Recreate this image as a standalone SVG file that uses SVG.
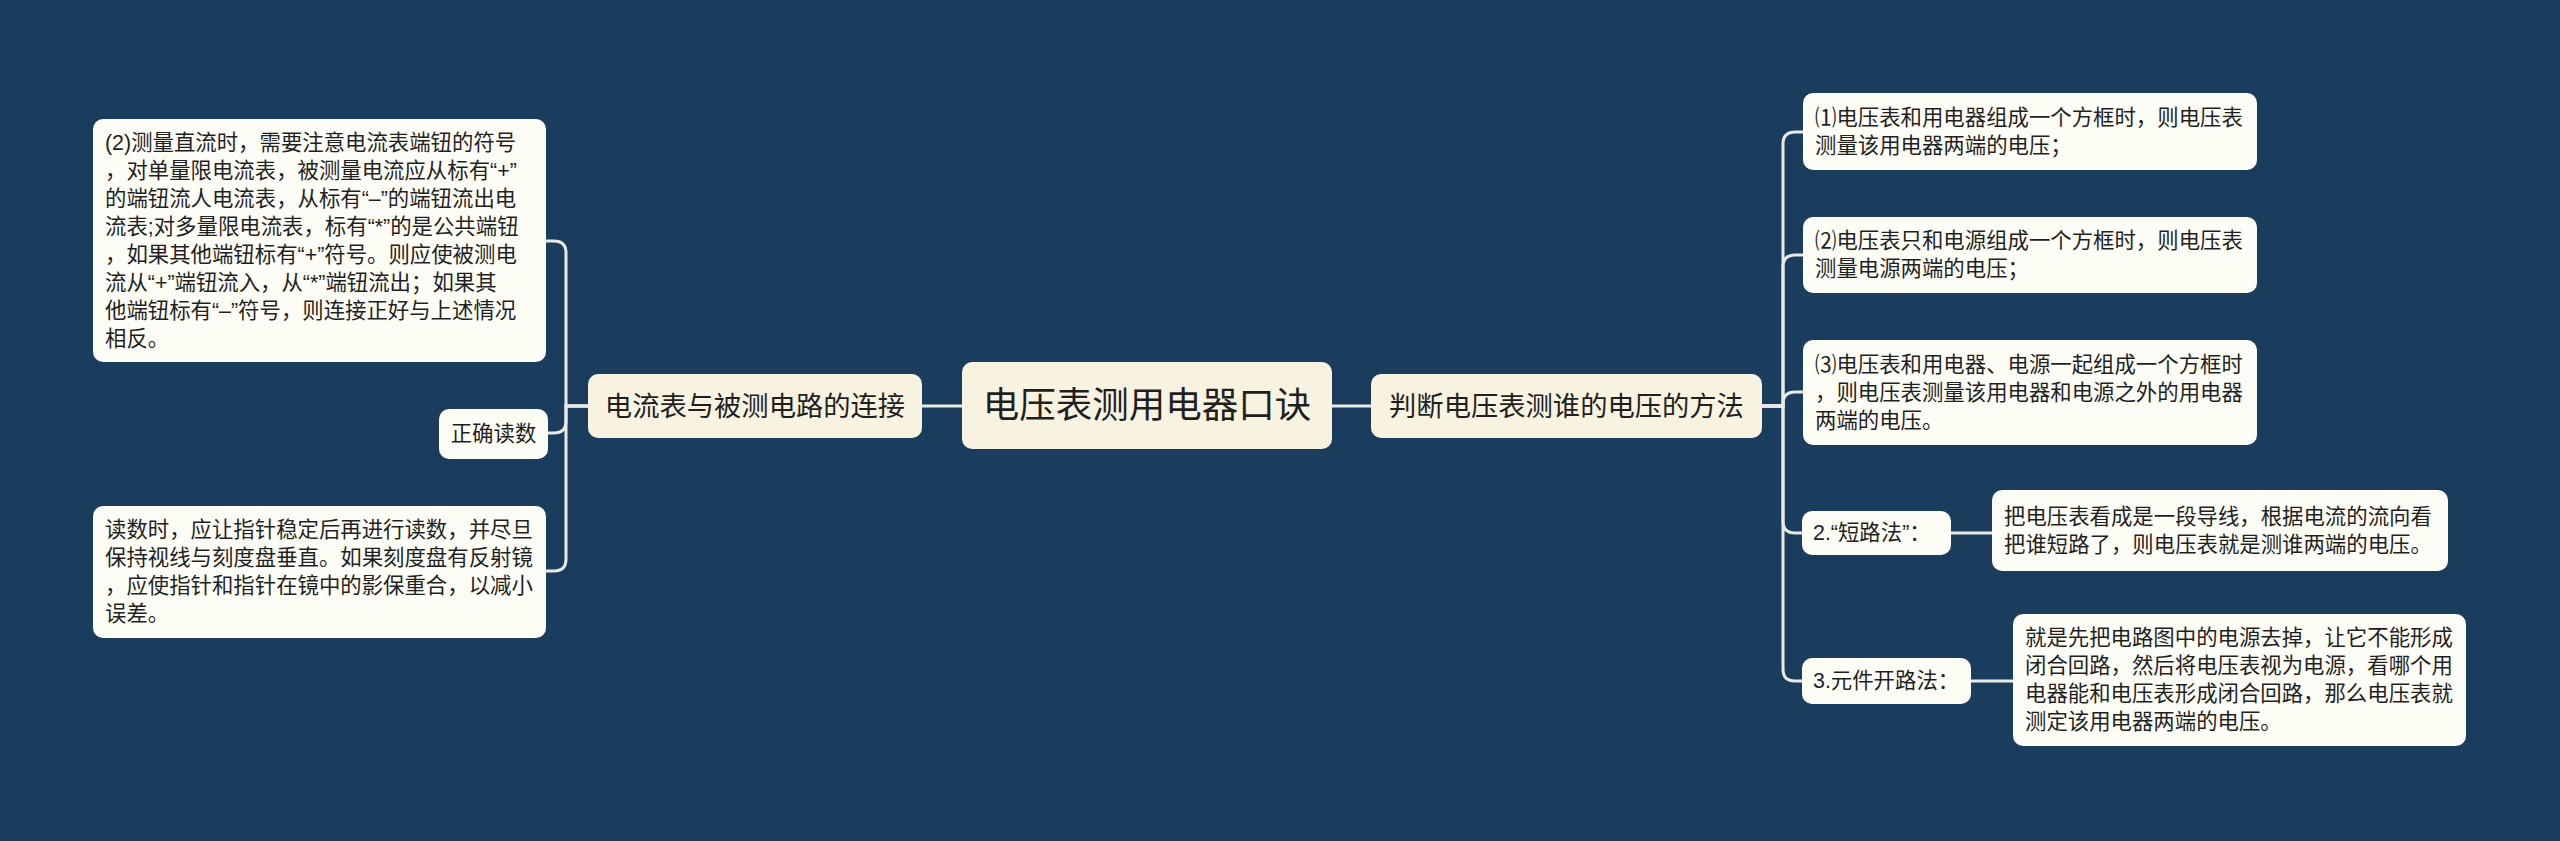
<svg xmlns="http://www.w3.org/2000/svg" width="2560" height="841" viewBox="0 0 2560 841">
<style>
.bg{fill:#1a3d5d}
.main{fill:#f8f3e1}
.leaf{fill:#fdfdf6}
.t{font-family:"Liberation Sans","Noto Sans CJK SC",sans-serif;fill:#1f1f1f;dominant-baseline:central}
.s{font-size:21.4px}
.m{font-size:27.3px;text-anchor:middle}
.c{font-size:36.5px;text-anchor:middle}
.sc{font-size:21.4px;text-anchor:middle}
.ln{fill:none;stroke:#e9e9e6;stroke-width:3}
</style>
<rect class="bg" x="0" y="0" width="2560" height="841"/>
<g id="connectors">
<path class="ln" d="M922 406 H962"/>
<path class="ln" d="M1332 406 H1371"/>
<path class="ln" d="M588 406 H566 V253 Q566 241 554 241 H545"/>
<path class="ln" d="M588 406 H566 V421 Q566 433 554 433 H548"/>
<path class="ln" d="M588 406 H566 V559 Q566 571 554 571 H545"/>
<path class="ln" d="M1762 406 H1783 V144 Q1783 132 1795 132 H1803"/>
<path class="ln" d="M1762 406 H1783 V267 Q1783 255 1795 255 H1803"/>
<path class="ln" d="M1762 406 H1783 V404 Q1783 392 1795 392 H1803"/>
<path class="ln" d="M1762 406 H1783 V521 Q1783 533 1795 533 H1802"/>
<path class="ln" d="M1762 406 H1783 V669 Q1783 681 1795 681 H1802"/>
<path class="ln" d="M1951 533 H1992"/>
<path class="ln" d="M1971 681 H2013"/>
</g>
<g id="center">
<rect class="main" x="962" y="362" width="370" height="87" rx="10"/>
<text class="t c" x="1147" y="405.5">电压表测用电器口诀</text>
</g>
<g id="left1">
<rect class="main" x="588" y="374" width="334" height="64" rx="10"/>
<text class="t m" x="755" y="406">电流表与被测电路的连接</text>
</g>
<g id="right1">
<rect class="main" x="1371" y="374" width="391" height="64" rx="10"/>
<text class="t m" x="1566.5" y="406">判断电压表测谁的电压的方法</text>
</g>
<g id="leafA">
<rect class="leaf" x="93" y="119" width="453" height="243" rx="10"/>
<text class="t s" x="105" y="142.5">(2)测量直流时，需要注意电流表端钮的符号</text>
<text class="t s" x="105" y="170.5">，对单量限电流表，被测量电流应从标有“+”</text>
<text class="t s" x="105" y="198.5">的端钮流人电流表，从标有“–”的端钮流出电</text>
<text class="t s" x="105" y="226.5">流表;对多量限电流表，标有“*”的是公共端钮</text>
<text class="t s" x="105" y="254.5">，如果其他端钮标有“+”符号。则应使被测电</text>
<text class="t s" x="105" y="282.5">流从“+”端钮流入，从“*”端钮流出；如果其</text>
<text class="t s" x="105" y="310.5">他端钮标有“–”符号，则连接正好与上述情况</text>
<text class="t s" x="105" y="338.5">相反。</text>
</g>
<g id="leafB">
<rect class="leaf" x="439" y="409" width="109" height="50" rx="10"/>
<text class="t sc" x="493.5" y="434">正确读数</text>
</g>
<g id="leafC">
<rect class="leaf" x="93" y="506" width="453" height="132" rx="10"/>
<text class="t s" x="105" y="529.5">读数时，应让指针稳定后再进行读数，并尽旦</text>
<text class="t s" x="105" y="557.5">保持视线与刻度盘垂直。如果刻度盘有反射镜</text>
<text class="t s" x="105" y="585.5">，应使指针和指针在镜中的影保重合，以减小</text>
<text class="t s" x="105" y="613.5">误差。</text>
</g>
<g id="r1">
<rect class="leaf" x="1803" y="93" width="454" height="77" rx="10"/>
<text class="t s" x="1815" y="117.5">⑴电压表和用电器组成一个方框时，则电压表</text>
<text class="t s" x="1815" y="145.5">测量该用电器两端的电压；</text>
</g>
<g id="r2">
<rect class="leaf" x="1803" y="217" width="454" height="76" rx="10"/>
<text class="t s" x="1815" y="241">⑵电压表只和电源组成一个方框时，则电压表</text>
<text class="t s" x="1815" y="269">测量电源两端的电压；</text>
</g>
<g id="r3">
<rect class="leaf" x="1803" y="340" width="454" height="105" rx="10"/>
<text class="t s" x="1815" y="364.5">⑶电压表和用电器、电源一起组成一个方框时</text>
<text class="t s" x="1815" y="392.5">，则电压表测量该用电器和电源之外的用电器</text>
<text class="t s" x="1815" y="420.5">两端的电压。</text>
</g>
<g id="r4">
<rect class="leaf" x="1802" y="511" width="149" height="44" rx="10"/>
<text class="t s" x="1813" y="533">2.“短路法”：</text>
</g>
<g id="r4a">
<rect class="leaf" x="1992" y="490" width="456" height="81" rx="10"/>
<text class="t s" x="2004" y="516.5">把电压表看成是一段导线，根据电流的流向看</text>
<text class="t s" x="2004" y="544.5">把谁短路了，则电压表就是测谁两端的电压。</text>
</g>
<g id="r5">
<rect class="leaf" x="1802" y="658" width="169" height="46" rx="10"/>
<text class="t s" x="1813" y="681">3.元件开路法：</text>
</g>
<g id="r5a">
<rect class="leaf" x="2013" y="614" width="453" height="132" rx="10"/>
<text class="t s" x="2025" y="638">就是先把电路图中的电源去掉，让它不能形成</text>
<text class="t s" x="2025" y="666">闭合回路，然后将电压表视为电源，看哪个用</text>
<text class="t s" x="2025" y="694">电器能和电压表形成闭合回路，那么电压表就</text>
<text class="t s" x="2025" y="722">测定该用电器两端的电压。</text>
</g>
</svg>
